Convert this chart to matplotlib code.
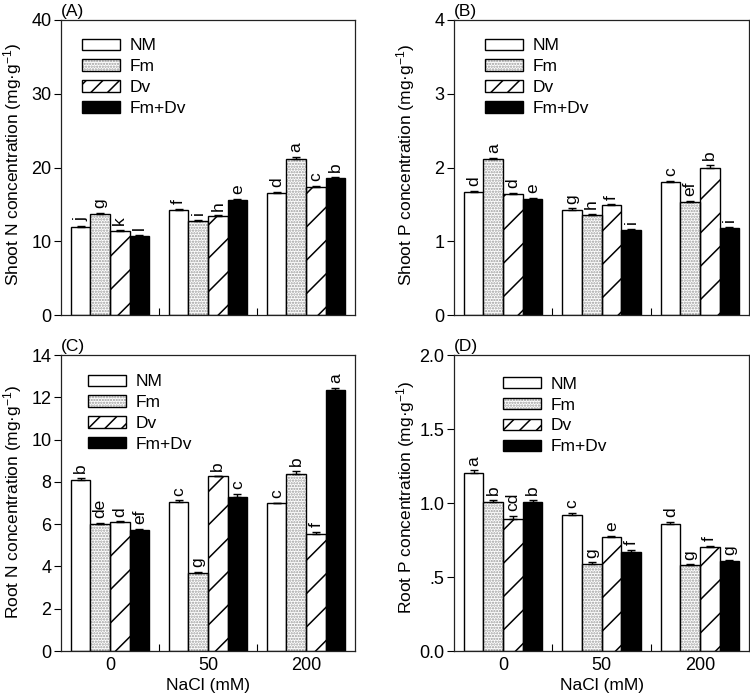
import matplotlib
matplotlib.use("Agg")
import matplotlib.pyplot as plt
from matplotlib.patches import Patch
from matplotlib.legend_handler import HandlerTuple
import numpy as np

plt.rcParams['font.family'] = ['Liberation Sans', 'DejaVu Sans']
plt.rcParams['mathtext.default'] = 'regular'
plt.rcParams['hatch.linewidth'] = 1.1

groups = ['0', '50', '200']
series = ['NM', 'Fm', 'Dv', 'Fm+Dv']

# Panel A: Shoot N
shootN = {'NM': [11.9, 14.3, 16.5], 'Fm': [13.7, 12.8, 21.2],
          'Dv': [11.4, 13.4, 17.4], 'Fm+Dv': [10.7, 15.6, 18.6]}
shootN_err = {'NM': [0.15, 0.1, 0.15], 'Fm': [0.1, 0.1, 0.25],
              'Dv': [0.1, 0.1, 0.15], 'Fm+Dv': [0.1, 0.1, 0.15]}
shootN_let = {'NM': ['j', 'f', 'd'], 'Fm': ['g', 'i', 'a'],
              'Dv': ['k', 'h', 'c'], 'Fm+Dv': ['l', 'e', 'b']}

# Panel B: Shoot P
shootP = {'NM': [1.67, 1.43, 1.81], 'Fm': [2.12, 1.36, 1.53],
          'Dv': [1.64, 1.49, 2.00], 'Fm+Dv': [1.57, 1.15, 1.18]}
shootP_err = {'NM': [0.015, 0.015, 0.01], 'Fm': [0.01, 0.01, 0.015],
              'Dv': [0.015, 0.01, 0.04], 'Fm+Dv': [0.015, 0.015, 0.01]}
shootP_let = {'NM': ['d', 'g', 'c'], 'Fm': ['a', 'h', 'ef'],
              'Dv': ['d', 'f', 'b'], 'Fm+Dv': ['e', 'i', 'i']}

# Panel C: Root N
rootN = {'NM': [8.07, 7.06, 6.98], 'Fm': [6.0, 3.68, 8.37],
         'Dv': [6.1, 8.27, 5.55], 'Fm+Dv': [5.73, 7.27, 12.33]}
rootN_err = {'NM': [0.1, 0.06, 0.03], 'Fm': [0.05, 0.05, 0.15],
             'Dv': [0.03, 0.03, 0.1], 'Fm+Dv': [0.06, 0.17, 0.12]}
rootN_let = {'NM': ['b', 'c', 'c'], 'Fm': ['de', 'g', 'b'],
             'Dv': ['d', 'b', 'f'], 'Fm+Dv': ['ef', 'c', 'a']}

# Panel D: Root P
rootP = {'NM': [1.20, 0.92, 0.86], 'Fm': [1.01, 0.59, 0.58],
         'Dv': [0.89, 0.77, 0.70], 'Fm+Dv': [1.01, 0.67, 0.61]}
rootP_err = {'NM': [0.02, 0.015, 0.012], 'Fm': [0.01, 0.008, 0.005],
             'Dv': [0.02, 0.005, 0.01], 'Fm+Dv': [0.012, 0.015, 0.008]}
rootP_let = {'NM': ['a', 'c', 'd'], 'Fm': ['b', 'g', 'g'],
             'Dv': ['cd', 'e', 'f'], 'Fm+Dv': ['b', 'f', 'g']}

STIPPLE = '#9a9a9a'

fig = plt.figure(figsize=(7.5, 6.94), dpi=100)
W, H = 750, 694


def make_ax(x0, x1, ytop, ybot):
    return fig.add_axes([x0 / W, 1 - ybot / H, (x1 - x0) / W, (ybot - ytop) / H])


axA = make_ax(61, 355, 20, 315)
axB = make_ax(454, 749, 20, 315)
axC = make_ax(61, 355, 355, 651)
axD = make_ax(454, 749, 355, 651)

panels = [
    (axA, shootN, shootN_err, shootN_let, 40, np.arange(0, 41, 10), None,
     'Shoot N concentration (mg·g$^{-1}$)', '(A)', False, 0.51, (0.072, 0.938)),
    (axB, shootP, shootP_err, shootP_let, 4, np.arange(0, 5, 1), None,
     'Shoot P concentration (mg·g$^{-1}$)', '(B)', False, 0.51, (0.105, 0.938)),
    (axC, rootN, rootN_err, rootN_let, 14, np.arange(0, 15, 2), None,
     'Root N concentration (mg·g$^{-1}$)', '(C)', True, 0.503, (0.092, 0.935)),
    (axD, rootP, rootP_err, rootP_let, 2.0, [0, 0.5, 1.0, 1.5, 2.0],
     ['0.0', '.5', '1.0', '1.5', '2.0'],
     'Root P concentration (mg·g$^{-1}$)', '(D)', True, 0.52, (0.166, 0.927)),
]

width = 0.2
offsets = [-0.3, -0.1, 0.1, 0.3]
centers = np.array([0.5, 1.5, 2.5])
FS = 12.5

for (ax, vals, errs, lets, ymax, yt, ytl, ylab, tag, xlab, ylc, legpos) in panels:
    for s, off in zip(series, offsets):
        x = centers + off
        if s == 'NM':
            ax.bar(x, vals[s], width, facecolor='white', edgecolor='black', linewidth=1.0, zorder=2)
        elif s == 'Fm':
            ax.bar(x, vals[s], width, facecolor='white', edgecolor=STIPPLE, hatch='......',
                   linewidth=0, zorder=2)
            ax.bar(x, vals[s], width, fill=False, edgecolor='black', linewidth=1.0, zorder=2.1)
        elif s == 'Dv':
            ax.bar(x, vals[s], width, facecolor='white', edgecolor='black', hatch='/',
                   linewidth=1.0, zorder=2)
        else:
            ax.bar(x, vals[s], width, facecolor='black', edgecolor='black', linewidth=1.0, zorder=2)
        ax.errorbar(x, vals[s], yerr=[np.zeros(3), errs[s]], fmt='none',
                    ecolor='black', elinewidth=1.0, capsize=3.2, capthick=1.0, zorder=3)
        for xi, v, e, l in zip(x, vals[s], errs[s], lets[s]):
            ax.annotate(l, xy=(xi, v + e), xytext=(0, 3.5), textcoords='offset points',
                        rotation=90, ha='center', va='bottom', fontsize=FS)
    ax.set_xlim(0, 3)
    ax.set_ylim(0, ymax)
    ax.set_yticks(yt)
    if ytl is not None:
        ax.set_yticklabels(ytl)
    ax.tick_params(axis='y', direction='out', length=5, width=0.8, labelsize=FS + 0.5, pad=2)
    ax.set_xticks(centers)
    ax.set_xticks([1, 2], minor=True)
    ax.tick_params(axis='x', which='major', length=0, labelsize=FS + 0.5, pad=4)
    ax.tick_params(axis='x', which='minor', direction='in', length=5, width=0.8)
    if xlab:
        ax.set_xticklabels(groups)
        ax.set_xlabel('NaCl (mM)', fontsize=FS, labelpad=3)
    else:
        ax.set_xticklabels([])
    ax.set_ylabel(ylab, fontsize=FS)
    ax.yaxis.set_label_coords(-0.125, ylc)
    for sp in ax.spines.values():
        sp.set_linewidth(0.9)
        sp.set_color('#222222')
    ax.text(0.0, 1.005, tag, transform=ax.transAxes, ha='left', va='bottom', fontsize=FS)

    h_nm = Patch(facecolor='white', edgecolor='black', linewidth=1.0)
    h_fm = (Patch(facecolor='white', edgecolor=STIPPLE, hatch='......', linewidth=0),
            Patch(fill=False, edgecolor='black', linewidth=1.0))
    h_dv = Patch(facecolor='white', edgecolor='black', hatch='//', linewidth=1.0)
    h_fd = Patch(facecolor='black', edgecolor='black', linewidth=1.0)
    ax.legend([h_nm, h_fm, h_dv, h_fd], series, handler_map={tuple: HandlerTuple(ndivide=1)},
              loc='upper left', bbox_to_anchor=legpos, frameon=False, fontsize=FS,
              handlelength=2.2, handleheight=0.62, labelspacing=0.34,
              handletextpad=0.55, borderpad=0, borderaxespad=0)

fig.savefig('out.png', dpi=100)
